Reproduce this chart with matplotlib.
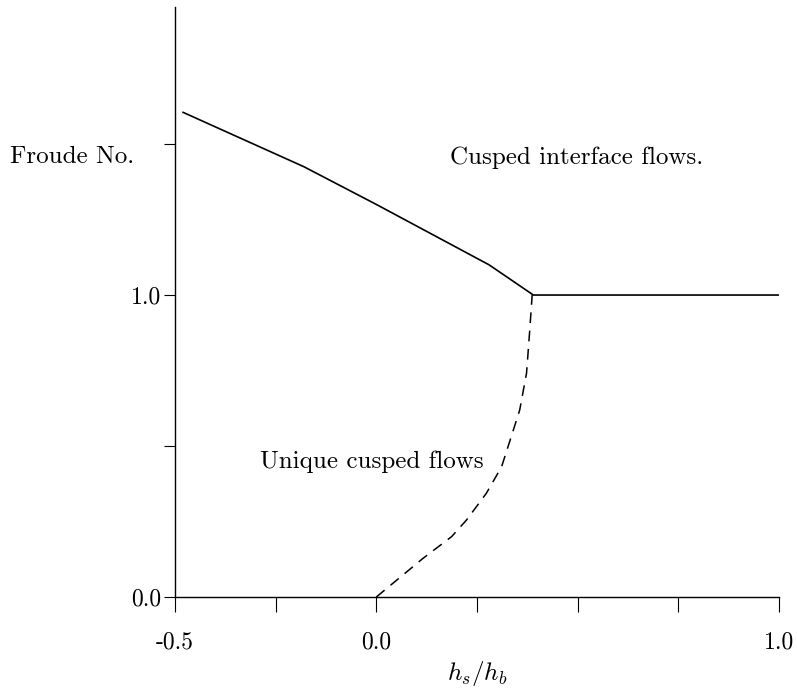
import matplotlib
matplotlib.use("Agg")
import matplotlib.pyplot as plt

plt.rcParams['font.family'] = 'serif'
plt.rcParams['font.serif'] = ['cmr10']
plt.rcParams['mathtext.fontset'] = 'cm'
plt.rcParams['axes.unicode_minus'] = False

# boundary of cusped interface flows (solid)
cusp_x = [-0.48, -0.18, 0.0, 0.28, 0.39, 1.0]
cusp_y = [1.605, 1.425, 1.30, 1.10, 1.0, 1.0]

# boundary of unique cusped flows (dashed)
uniq_x = [0.0, 0.116, 0.187, 0.224, 0.273, 0.311, 0.335, 0.356, 0.373, 0.381, 0.387]
uniq_y = [0.0, 0.128, 0.200, 0.255, 0.343, 0.431, 0.531, 0.619, 0.741, 0.884, 1.0]

xticks = [-0.5, -0.25, 0.0, 0.25, 0.5, 0.75, 1.0]
xlabels = ['-0.5', '', '0.0', '', '', '', '1.0']
yticks = [0.0, 0.5, 1.0, 1.5]
ylabels = ['0.0', '', '1.0', '']

fig = plt.figure(figsize=(7.97, 6.90), dpi=100)
ax = fig.add_axes([0.2196, 0.1348, 0.7578, 0.8551])

ax.plot(cusp_x, cusp_y, color='black', lw=1.2)
ax.plot(uniq_x, uniq_y, color='black', lw=1.1, linestyle=(0, (7, 5)))

ax.set_xlim(-0.5, 1.0)
ax.set_ylim(0.0, 1.954)
for s in ['top', 'right']:
    ax.spines[s].set_visible(False)
ax.spines['left'].set_linewidth(1.0)
ax.spines['bottom'].set_linewidth(1.0)

ax.set_xticks(xticks)
ax.set_xticklabels(xlabels, fontsize=17)
ax.set_yticks(yticks)
ax.set_yticklabels(ylabels, fontsize=17)
ax.tick_params(axis='x', direction='out', length=11, width=0.8, pad=14)
ax.tick_params(axis='y', direction='out', length=8, width=0.8, pad=2)

ax.set_xlabel(r'$h_s/h_b$', fontsize=18, va='center')
ax.xaxis.set_label_coords(0.5, -(674 - 597) / 590)

fig.text(10 / 797, 1 - 157 / 690, 'Froude No.', fontsize=18, va='center', ha='left')
ax.text(0.182, 1.454, 'Cusped interface flows.', fontsize=18, va='center', ha='left')
ax.text(-0.289, 0.447, 'Unique cusped flows', fontsize=18, va='center', ha='left')

fig.savefig('out.png', dpi=100)
